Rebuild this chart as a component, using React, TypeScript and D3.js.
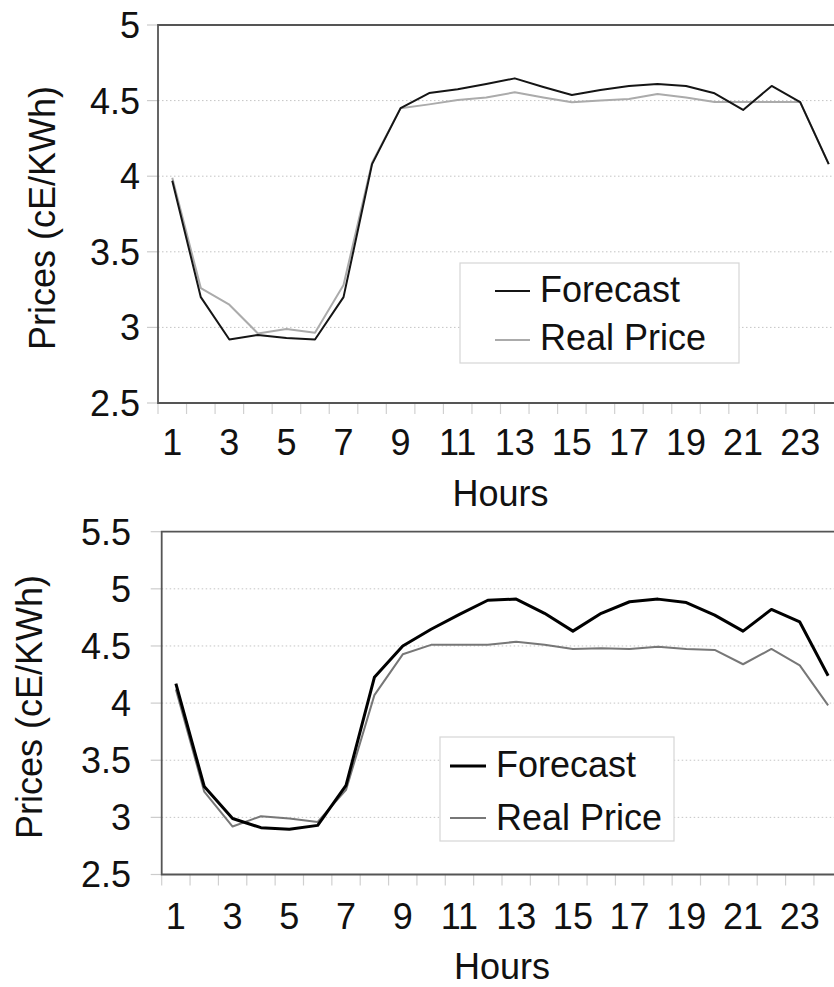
import React from "react";
import * as d3 from "d3";

const hours = d3.range(1, 25);
const hourLabels = [1, 3, 5, 7, 9, 11, 13, 15, 17, 19, 21, 23];

const forecastTop = [3.97, 3.2, 2.92, 2.95, 2.93, 2.92, 3.2, 4.08, 4.45, 4.55, 4.575, 4.61, 4.647, 4.59, 4.537, 4.57, 4.597, 4.61, 4.597, 4.548, 4.438, 4.597, 4.49, 4.08];
const realTop = [3.99, 3.26, 3.15, 2.96, 2.99, 2.965, 3.28, 4.09, 4.45, 4.475, 4.504, 4.52, 4.555, 4.52, 4.489, 4.5, 4.51, 4.544, 4.52, 4.49, 4.49, 4.49, 4.49, 4.08];

const forecastBottom = [4.17, 3.27, 2.99, 2.91, 2.896, 2.93, 3.28, 4.226, 4.5, 4.646, 4.777, 4.9, 4.91, 4.786, 4.63, 4.786, 4.887, 4.91, 4.88, 4.77, 4.63, 4.82, 4.71, 4.24];
const realBottom = [4.12, 3.225, 2.92, 3.01, 2.99, 2.96, 3.24, 4.07, 4.427, 4.51, 4.51, 4.51, 4.537, 4.51, 4.474, 4.48, 4.474, 4.494, 4.474, 4.465, 4.34, 4.474, 4.33, 3.98];

const ticksTop = [2.5, 3, 3.5, 4, 4.5, 5];
const ticksBottom = [2.5, 3, 3.5, 4, 4.5, 5, 5.5];

const seriesNames = ["Forecast", "Real Price"];
const yTitle = "Prices (cE/KWh)";
const xTitle = "Hours";

const FONT = "'Liberation Sans', Arial, Helvetica, sans-serif";

type PanelProps = {
  left: number; right: number; top: number; bottom: number;
  yDomain: [number, number]; yTicks: number[];
  forecast: number[]; real: number[];
  fW: number; rW: number; fC: string; rC: string;
  tickLabelRight: number; xLabelBase: number; xTitleBase: number;
  yTitleX: number; yTitleY: number;
  legend: { x0: number; y0: number; x1: number; y1: number; lx0: number; lx1: number; tx: number; b1: number; b2: number; l1: number; l2: number };
};

function Panel(p: PanelProps) {
  const x = d3.scaleBand<number>().domain(hours).range([p.left, p.right]);
  const y = d3.scaleLinear().domain(p.yDomain).range([p.bottom, p.top]);
  const cx = (h: number) => (x(h) as number) + x.bandwidth() / 2;
  const line = d3.line<number>().x((_, i) => cx(hours[i])).y((v) => y(v));
  const bounds = hours.map((h) => x(h) as number).concat([p.right]);
  return (
    <g>
      {p.yTicks.slice(1, -1).map((t) => (
        <line key={"g" + t} x1={p.left} x2={834} y1={y(t)} y2={y(t)} stroke="#c4c4c4" strokeWidth={1} strokeDasharray="1.5,2.5" />
      ))}
      {p.yTicks.map((t) => (
        <g key={"t" + t}>
          <line x1={p.left - 11} x2={p.left} y1={y(t)} y2={y(t)} stroke="#ccc" strokeWidth={1.2} />
          <text x={p.tickLabelRight} y={y(t)} dy="0.36em" textAnchor="end" fontSize={36} fill="#111" fontFamily={FONT}>{t}</text>
        </g>
      ))}
      {bounds.map((b, i) => (
        <line key={"xt" + i} x1={b} x2={b} y1={p.bottom} y2={p.bottom + 11} stroke="#d0d0d0" strokeWidth={1.2} />
      ))}
      {hourLabels.map((h) => (
        <text key={"xl" + h} x={cx(h)} y={p.xLabelBase} textAnchor="middle" fontSize={36} fill="#111" fontFamily={FONT}>{h}</text>
      ))}
      <text x={(p.left + p.right) / 2} y={p.xTitleBase} textAnchor="middle" fontSize={36} fill="#111" fontFamily={FONT}>{xTitle}</text>
      <text transform={`translate(${p.yTitleX},${p.yTitleY}) rotate(-90)`} textAnchor="middle" fontSize={36} fill="#111" fontFamily={FONT}>{yTitle}</text>
      <path d={`M${834},${p.top}H${p.left}V${p.bottom}H${834}`} fill="none" stroke="#555" strokeWidth={1.8} />
      <path d={line(p.real) || ""} fill="none" stroke={p.rC} strokeWidth={p.rW} strokeLinejoin="round" />
      <path d={line(p.forecast) || ""} fill="none" stroke={p.fC} strokeWidth={p.fW} strokeLinejoin="round" />
      <rect x={p.legend.x0} y={p.legend.y0} width={p.legend.x1 - p.legend.x0} height={p.legend.y1 - p.legend.y0} fill="#fff" stroke="#d6d6d6" strokeWidth={1.2} />
      <line x1={p.legend.lx0} x2={p.legend.lx1} y1={p.legend.l1} y2={p.legend.l1} stroke={p.fC} strokeWidth={p.fW} />
      <line x1={p.legend.lx0} x2={p.legend.lx1} y1={p.legend.l2} y2={p.legend.l2} stroke={p.rC} strokeWidth={p.rW} />
      <text x={p.legend.tx} y={p.legend.b1} fontSize={36} fill="#111" fontFamily={FONT}>{seriesNames[0]}</text>
      <text x={p.legend.tx} y={p.legend.b2} fontSize={36} fill="#111" fontFamily={FONT}>{seriesNames[1]}</text>
    </g>
  );
}

export default function App() {
  return (
    <svg width={834} height={987} style={{ position: "absolute", left: 0, top: 0, background: "#fff" }}>
      <rect width={834} height={987} fill="#fff" />
      <Panel
        left={158} right={843} top={25} bottom={403}
        yDomain={[2.5, 5]} yTicks={ticksTop}
        forecast={forecastTop} real={realTop}
        fW={2} rW={2} fC="#151515" rC="#ababab"
        tickLabelRight={140} xLabelBase={455} xTitleBase={506}
        yTitleX={55} yTitleY={218}
        legend={{ x0: 460, y0: 263, x1: 739, y1: 363, lx0: 495, lx1: 530, tx: 540, b1: 302, b2: 350, l1: 291, l2: 340 }}
      />
      <Panel
        left={161.7} right={842.3} top={531.7} bottom={874.5}
        yDomain={[2.5, 5.5]} yTicks={ticksBottom}
        forecast={forecastBottom} real={realBottom}
        fW={3} rW={2} fC="#000" rC="#777"
        tickLabelRight={131} xLabelBase={929} xTitleBase={979}
        yTitleX={42} yTitleY={707}
        legend={{ x0: 440, y0: 737, x1: 674, y1: 841, lx0: 450, lx1: 486, tx: 496, b1: 777, b2: 830, l1: 766, l2: 818 }}
      />
    </svg>
  );
}
